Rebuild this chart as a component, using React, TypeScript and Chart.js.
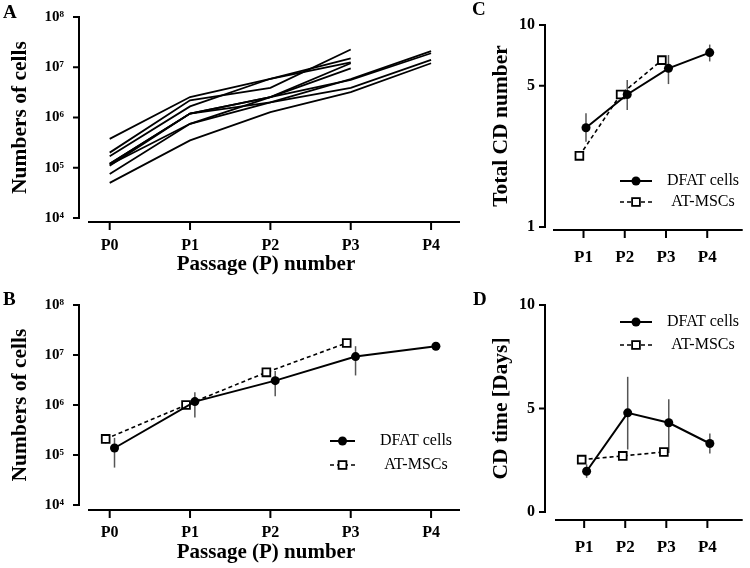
import React, { useEffect, useRef } from 'react';
import { Chart, registerables } from 'chart.js';

Chart.register(...registerables);

// ---------- data ----------
const passagesAB = ['P0', 'P1', 'P2', 'P3', 'P4'];
const passagesCD = ['P1', 'P2', 'P3', 'P4'];

const cellTicks = [1e4, 1e5, 1e6, 1e7, 1e8];
const cellTickLabels = ['10⁴', '10⁵', '10⁶', '10⁷', '10⁸'];
const cdTicks = [1, 5, 10];
const cdTickLabels = ['1', '5', '10'];
const cdtTicks = [0, 5, 10];
const cdtTickLabels = ['0', '5', '10'];

// Panel A: individual donors (cells per passage)
const donor1 = [3.75e5, 2.55e6, 5.9e6, 1.25e7, null];
const donor2 = [2.0e5, 2.2e6, 3.9e6, 2.26e7, null];
const donor3 = [1.7e5, 1.66e6, 5.9e6, 1.5e7, null];
const donor4 = [1.2e5, 1.2e6, 2.0e6, 5.8e6, 2.1e7];
const donor5 = [1.2e5, 1.2e6, 2.55e6, 1.2e7, null];
const donor6 = [1.15e5, 7.5e5, 2.55e6, 9.5e6, null];
const donor7 = [1.1e5, 1.2e6, 2.55e6, 5.6e6, 1.9e7];
const donor8 = [7.5e4, 7.5e5, 2.0e6, 3.9e6, 1.4e7];
const donor9 = [5.0e4, 3.5e5, 1.28e6, 3.2e6, 1.2e7];

// Panel B: mean cells
const dfatCells = [1.38e5, 1.17e6, 3.07e6, 9.3e6, 1.5e7];
const dfatCellsHi = [2.2e5, 1.8e6, 4.8e6, 1.5e7, 1.65e7];
const dfatCellsLo = [5.6e4, 5.6e5, 1.5e6, 3.9e6, 1.38e7];
const mscCells = [2.1e5, 1.0e6, 4.5e6, 1.74e7];
const mscCellsHi = [2.6e5, 1.2e6, 5.0e6, 1.9e7];
const mscCellsLo = [1.7e5, 8.5e5, 4.0e6, 1.6e7];

// Panel C: total CD number
const dfatCD = [3.1, 4.53, 6.1, 7.3];
const dfatCDHi = [3.66, 5.34, 7.1, 8.0];
const dfatCDLo = [2.64, 3.79, 5.1, 6.6];
const mscCD = [2.25, 4.53, 6.7];

// Panel D: CD time (days)
const dfatCDT = [1.97, 4.79, 4.31, 3.31];
const dfatCDTHi = [2.3, 6.53, 5.45, 3.79];
const dfatCDTLo = [1.65, 3.02, 2.85, 2.83];
const mscCDT = [2.53, 2.71, 2.9];

// ---------- styles ----------
const SERIF = "'Liberation Serif', 'Times New Roman', serif";
const DFAT_DODGE = 0.06;
const MSC_DODGE = -0.05;

// ---------- plugins ----------
const prismAxes = {
  id: 'prismAxes',
  afterDraw(chart: any, _a: any, opts: any) {
    const { ctx, chartArea, scales } = chart;
    const x = scales.x, y = scales.y;
    ctx.save();
    ctx.strokeStyle = '#000';
    ctx.lineWidth = 2;
    const yx = chartArea.left - opts.yGap;
    ctx.beginPath();
    ctx.moveTo(yx, y.getPixelForValue(y.max) - 1);
    ctx.lineTo(yx, y.getPixelForValue(y.min) + 1);
    y.ticks.forEach((t: any) => {
      const py = y.getPixelForValue(t.value);
      ctx.moveTo(yx - opts.tick, py);
      ctx.lineTo(yx, py);
    });
    ctx.stroke();
    const xy = chartArea.bottom + opts.xGap;
    ctx.beginPath();
    ctx.moveTo(chartArea.left, xy);
    ctx.lineTo(chartArea.right, xy);
    x.ticks.forEach((t: any) => {
      const px = x.getPixelForValue(t.value);
      ctx.moveTo(px, xy);
      ctx.lineTo(px, xy + opts.tick + 2);
    });
    ctx.stroke();
    ctx.fillStyle = '#000';
    if (opts.xTitle) {
      ctx.font = `bold 21px ${SERIF}`;
      ctx.textAlign = 'center';
      ctx.textBaseline = 'middle';
      ctx.fillText(opts.xTitle, opts.xTitleX, opts.xTitleY);
    }
    if (opts.letter) {
      ctx.font = `bold 19px ${SERIF}`;
      ctx.textAlign = 'left';
      ctx.textBaseline = 'alphabetic';
      ctx.fillText(opts.letter, opts.letterX, opts.letterY);
    }
    ctx.restore();
  },
};

const errorBars = {
  id: 'errorBars',
  beforeDatasetsDraw(chart: any) {
    const { ctx, scales } = chart;
    ctx.save();
    ctx.strokeStyle = '#555';
    ctx.lineWidth = 1.5;
    chart.data.datasets.forEach((ds: any, i: number) => {
      if (!ds.errHi) return;
      const meta = chart.getDatasetMeta(i);
      meta.data.forEach((pt: any, j: number) => {
        const hi = ds.errHi[j], lo = ds.errLo[j];
        if (hi == null || lo == null) return;
        ctx.beginPath();
        ctx.moveTo(pt.x, scales.y.getPixelForValue(hi));
        ctx.lineTo(pt.x, scales.y.getPixelForValue(lo));
        ctx.stroke();
      });
    });
    ctx.restore();
  },
};

const inlineLegend = {
  id: 'inlineLegend',
  afterDatasetsDraw(chart: any, _a: any, opts: any) {
    if (!opts || !opts.items) return;
    const { ctx } = chart;
    ctx.save();
    opts.items.forEach((it: any) => {
      const ds = chart.data.datasets[it.dataset];
      ctx.strokeStyle = '#000';
      ctx.lineWidth = ds.borderWidth;
      ctx.setLineDash(ds.borderDash || []);
      ctx.beginPath();
      ctx.moveTo(opts.x0, it.y);
      ctx.lineTo(opts.x0 + opts.len, it.y);
      ctx.stroke();
      ctx.setLineDash([]);
      const cx = opts.x0 + opts.len / 2;
      if (ds.pointStyle === 'rect') {
        const s = ds.pointRadius * Math.SQRT1_2;
        ctx.fillStyle = '#fff';
        ctx.lineWidth = ds.pointBorderWidth;
        ctx.fillRect(cx - s, it.y - s, 2 * s, 2 * s);
        ctx.strokeRect(cx - s, it.y - s, 2 * s, 2 * s);
      } else {
        ctx.fillStyle = '#000';
        ctx.beginPath();
        ctx.arc(cx, it.y, ds.pointRadius, 0, Math.PI * 2);
        ctx.fill();
      }
      ctx.fillStyle = '#000';
      ctx.font = `16px ${SERIF}`;
      ctx.textAlign = 'center';
      ctx.textBaseline = 'middle';
      ctx.fillText(ds.label, opts.textX, it.y);
    });
    ctx.restore();
  },
};

// ---------- helpers ----------
const pts = (vals: (number | null)[], start: number, dodge: number) =>
  vals.map((v, i) => ({ x: start + i + dodge, y: v }));

const dfatStyle = {
  borderColor: '#000',
  backgroundColor: '#000',
  borderWidth: 2,
  pointStyle: 'circle',
  pointRadius: 4.5,
  pointBackgroundColor: '#000',
  pointBorderColor: '#000',
  pointBorderWidth: 0,
  clip: false,
};
const mscStyle = {
  borderColor: '#000',
  backgroundColor: '#fff',
  borderWidth: 1.6,
  borderDash: [4, 3],
  pointStyle: 'rect',
  pointRadius: 5.5,
  pointBackgroundColor: '#fff',
  pointBorderColor: '#000',
  pointBorderWidth: 1.8,
  clip: false,
};

const zeroPad = (s: any) => {
  s.paddingTop = 0;
  s.paddingBottom = 0;
  s.paddingLeft = 0;
  s.paddingRight = 0;
};

function makeOptions(p: any) {
  return {
    responsive: false,
    animation: false,
    events: [],
    layout: { padding: { top: p.top, right: p.right, left: 0, bottom: 0 } },
    plugins: {
      legend: { display: false },
      tooltip: { enabled: false },
      prismAxes: p.axes,
      inlineLegend: p.legend || {},
    },
    scales: {
      x: {
        type: 'linear',
        min: p.xMin,
        max: p.xMax,
        afterFit: (s: any) => { s.height = p.xHeight; zeroPad(s); },
        afterBuildTicks: (s: any) => {
          s.ticks = p.xLabels.map((_: string, i: number) => ({ value: p.xStart + i }));
        },
        ticks: {
          autoSkip: false,
          maxRotation: 0,
          padding: p.xPad,
          color: '#000',
          font: { family: SERIF, size: p.xFont, weight: 'bold' },
          callback: (v: number) => p.xLabels[Math.round(v) - p.xStart],
        },
        grid: { display: false, drawTicks: false },
        border: { display: false },
      },
      y: {
        type: p.yType,
        min: p.yMin,
        max: p.yMax,
        afterFit: (s: any) => { s.width = p.yWidth; zeroPad(s); },
        afterBuildTicks: (s: any) => {
          s.ticks = p.yTicks.map((v: number) => ({ value: v }));
        },
        ticks: {
          autoSkip: false,
          padding: p.yPad,
          color: '#000',
          font: { family: SERIF, size: p.yFont, weight: 'bold' },
          callback: (v: number) => p.yLabels[p.yTicks.indexOf(v)],
        },
        grid: { display: false, drawTicks: false },
        border: { display: false },
        title: {
          display: true,
          text: p.yTitle,
          color: '#000',
          font: { family: SERIF, size: 21.5, weight: 'bold' },
          padding: { top: p.yTitlePad, bottom: 0 },
        },
      },
    },
  };
}

const donors = [donor1, donor2, donor3, donor4, donor5, donor6, donor7, donor8, donor9];

const configA = {
  type: 'line',
  data: {
    datasets: donors.map((d, i) => ({
      label: `Donor ${i + 1}`,
      data: pts(d, 0, 0),
      borderColor: '#000',
      borderWidth: 1.8,
      pointRadius: 0,
      spanGaps: false,
      clip: false,
    })),
  },
  options: makeOptions({
    top: 17, right: 10, xHeight: 67, yWidth: 88,
    xMin: -0.27, xMax: 4.36, xStart: 0, xLabels: passagesAB, xPad: 18, xFont: 16,
    yType: 'logarithmic', yMin: 1e4, yMax: 1e8, yTicks: cellTicks, yLabels: cellTickLabels,
    yPad: 24, yFont: 15, yTitle: 'Numbers of cells', yTitlePad: 8,
    axes: { yGap: 9, xGap: 4, tick: 6, letter: 'A', letterX: 3, letterY: 18,
      xTitle: 'Passage (P) number', xTitleX: 266, xTitleY: 265 },
  }),
  plugins: [prismAxes],
};

const configB = {
  type: 'line',
  data: {
    datasets: [
      { label: 'DFAT cells', data: pts(dfatCells, 0, DFAT_DODGE), errHi: dfatCellsHi, errLo: dfatCellsLo, ...dfatStyle },
      { label: 'AT-MSCs', data: pts(mscCells, 0, MSC_DODGE), errHi: mscCellsHi, errLo: mscCellsLo, ...mscStyle },
    ],
  },
  options: makeOptions({
    top: 20, right: 10, xHeight: 63, yWidth: 88,
    xMin: -0.27, xMax: 4.36, xStart: 0, xLabels: passagesAB, xPad: 18, xFont: 16,
    yType: 'logarithmic', yMin: 1e4, yMax: 1e8, yTicks: cellTicks, yLabels: cellTickLabels,
    yPad: 24, yFont: 15, yTitle: 'Numbers of cells', yTitlePad: 8,
    axes: { yGap: 9, xGap: 5, tick: 6, letter: 'B', letterX: 3, letterY: 20,
      xTitle: 'Passage (P) number', xTitleX: 266, xTitleY: 268 },
    legend: { x0: 330, len: 25, textX: 416, items: [{ dataset: 0, y: 156 }, { dataset: 1, y: 180 }] },
  }),
  plugins: [prismAxes, errorBars, inlineLegend],
};

const configC = {
  type: 'line',
  data: {
    datasets: [
      { label: 'DFAT cells', data: pts(dfatCD, 1, DFAT_DODGE), errHi: dfatCDHi, errLo: dfatCDLo, ...dfatStyle },
      { label: 'AT-MSCs', data: pts(mscCD, 1, -0.1), ...mscStyle },
    ],
  },
  options: makeOptions({
    top: 25, right: 3, xHeight: 63, yWidth: 113,
    xMin: 0.26, xMax: 4.86, xStart: 1, xLabels: passagesCD, xPad: 20, xFont: 17,
    yType: 'logarithmic', yMin: 1, yMax: 10, yTicks: cdTicks, yLabels: cdTickLabels,
    yPad: 18, yFont: 16, yTitle: 'Total CD number', yTitlePad: 49,
    axes: { yGap: 8, xGap: 3, tick: 6, letter: 'C', letterX: 32, letterY: 15 },
    legend: { x0: 180, len: 32, textX: 263, items: [{ dataset: 0, y: 181 }, { dataset: 1, y: 202 }] },
  }),
  plugins: [prismAxes, errorBars, inlineLegend],
};

const configD = {
  type: 'line',
  data: {
    datasets: [
      { label: 'DFAT cells', data: pts(dfatCDT, 1, DFAT_DODGE), errHi: dfatCDTHi, errLo: dfatCDTLo, ...dfatStyle },
      { label: 'AT-MSCs', data: pts(mscCDT, 1, -0.06), ...mscStyle },
    ],
  },
  options: makeOptions({
    top: 15, right: 3, xHeight: 56, yWidth: 115,
    xMin: 0.29, xMax: 4.86, xStart: 1, xLabels: passagesCD, xPad: 25, xFont: 17,
    yType: 'linear', yMin: 0, yMax: 10, yTicks: cdtTicks, yLabels: cdtTickLabels,
    yPad: 20, yFont: 16, yTitle: 'CD time [Days]', yTitlePad: 49,
    axes: { yGap: 10, xGap: 8, tick: 6, letter: 'D', letterX: 33, letterY: 15 },
    legend: { x0: 180, len: 32, textX: 263, items: [{ dataset: 0, y: 32 }, { dataset: 1, y: 55 }] },
  }),
  plugins: [prismAxes, errorBars, inlineLegend],
};

function Panel(props: { left: number; top: number; width: number; height: number; config: any }) {
  const ref = useRef<HTMLCanvasElement>(null);
  useEffect(() => {
    const chart = new Chart(ref.current as HTMLCanvasElement, props.config);
    return () => chart.destroy();
  }, []);
  const { left, top, width, height } = props;
  return (
    <div style={{ position: 'absolute', left, top, width, height }}>
      <canvas ref={ref} width={width} height={height} style={{ width, height, display: 'block' }} />
    </div>
  );
}

export default function App() {
  return (
    <div style={{ position: 'absolute', left: 0, top: 0, width: 750, height: 568, background: '#fff' }}>
      <Panel left={0} top={0} width={470} height={285} config={configA} />
      <Panel left={0} top={285} width={470} height={283} config={configB} />
      <Panel left={440} top={0} width={310} height={290} config={configC} />
      <Panel left={440} top={290} width={310} height={278} config={configD} />
    </div>
  );
}
